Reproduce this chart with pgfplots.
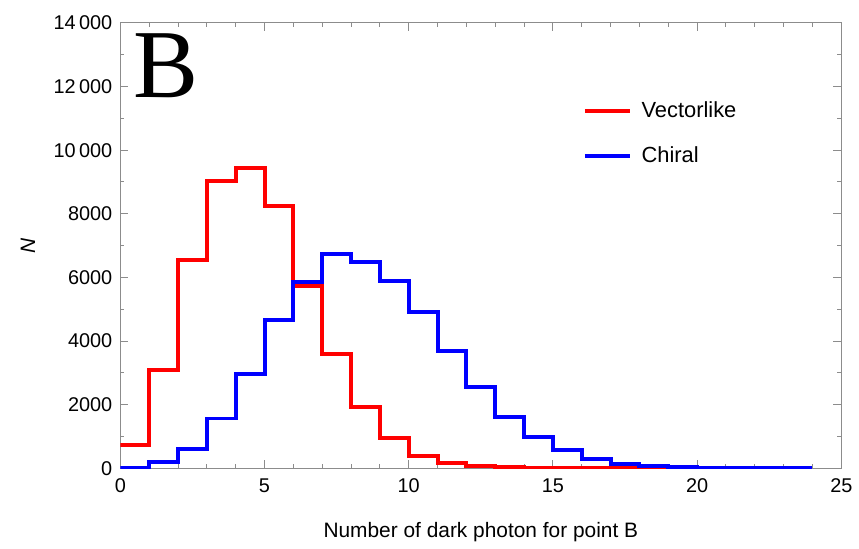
\documentclass[border=0pt]{standalone}
\usepackage{fontspec}
\setmainfont{Liberation Sans}
\newfontfamily\serifB{Liberation Serif}
\usepackage{pgfplots}
\pgfplotsset{compat=1.18}
\begin{document}
\begin{tikzpicture}
\begin{axis}[
  scale only axis,
  width=362.5pt, height=224pt,
  xmin=0, xmax=25, ymin=0, ymax=14000,
  xtick={0,5,10,15,20,25},
  minor xtick={1,2,3,4,6,7,8,9,11,12,13,14,16,17,18,19,21,22,23,24},
  ytick={0,2000,4000,6000,8000,10000,12000,14000},
  yticklabels={0,2000,4000,6000,8000,10\,000,12\,000,14\,000},
  minor ytick={1000,3000,5000,7000,9000,11000,13000},
  scaled y ticks=false,
  tick pos=both, ticklabel pos=left,
  tick align=inside,
  major tick length=4pt, minor tick length=2pt,
  axis line style={black!45, line width=0.5pt},
  every tick/.style={black!45, line width=0.5pt},
  /pgf/number format/assume math mode=true,
  tick label style={font=\fontsize{10}{11}\selectfont, black},
  xticklabel style={yshift=-1.5pt},
  yticklabel style={xshift=-0.5pt},
  label style={font=\fontsize{10.5}{12}\selectfont},
  xlabel={Number of dark photon for point B},
  xlabel style={at={(axis description cs:0.5,-0.155)}, anchor=base},
  ylabel={\itshape N},
  ylabel style={at={(axis description cs:-0.128,0.5)}, anchor=center},
  legend style={draw=none, fill=none, at={(axis description cs:0.641,0.833)}, anchor=north west, font=\fontsize{11}{12}\selectfont, row sep=9pt, inner sep=0pt},
  legend cell align=left,
  legend image code/.code={\draw[#1] (0pt,0pt) -- (22.5pt,0pt);},
]
\addplot[const plot, red, line width=2pt] coordinates {
(0,733) (1,3085) (2,6552) (3,9029) (4,9427) (5,8258) (6,5730) (7,3580) (8,1935) (9,962) (10,388) (11,178) (12,73) (13,40) (14,20) (15,10) (16,5) (17,3) (18,2) (19,2)
};
\addlegendentry{\hspace{3pt}Vectorlike}
\addplot[const plot, blue, line width=2pt] coordinates {
(0,15) (1,200) (2,596) (3,1568) (4,2978) (5,4652) (6,5853) (7,6730) (8,6496) (9,5890) (10,4928) (11,3680) (12,2571) (13,1621) (14,984) (15,577) (16,282) (17,138) (18,85) (19,45) (20,25) (21,15) (22,8) (23,5) (24,5)
};
\addlegendentry{\hspace{3pt}Chiral}
\node[anchor=base west, inner sep=0pt, font=\serifB\fontsize{49}{50}\selectfont] at (axis description cs:0.018,0.833) {B};
\end{axis}
\path (current axis.south west) ++(-60.5pt,-35pt) rectangle ++(429.5pt,270.5pt);
\end{tikzpicture}
\end{document}
